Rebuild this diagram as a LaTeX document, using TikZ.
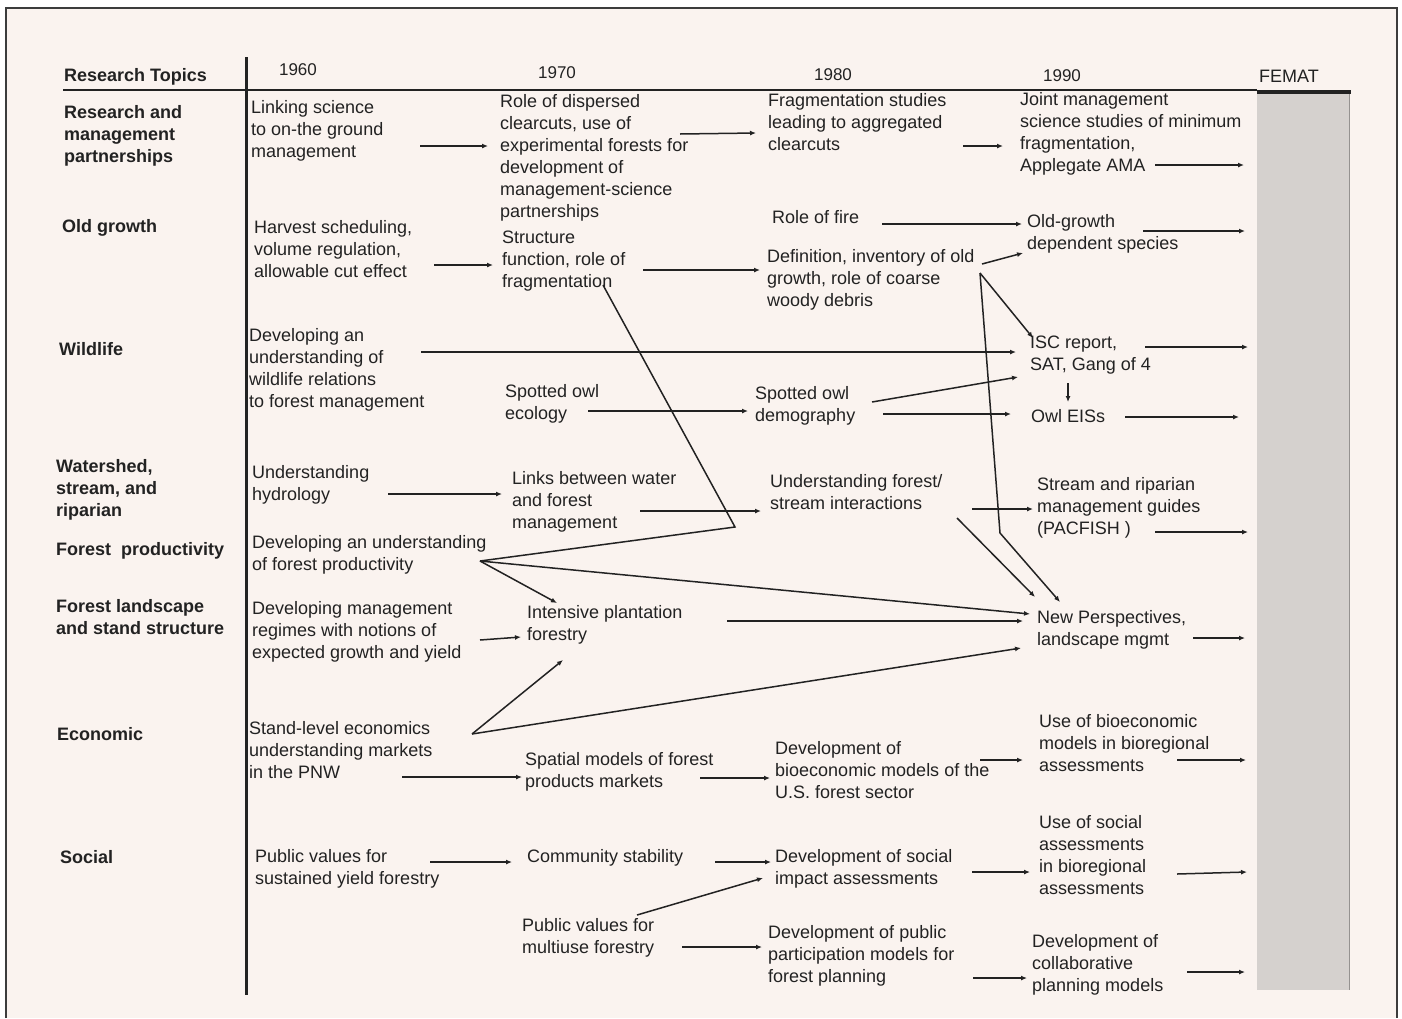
\documentclass[tikz,border=0pt]{standalone}
\usepackage{fontspec}
\setmainfont{Liberation Sans}
\usetikzlibrary{arrows.meta}
\definecolor{paper}{HTML}{FAF3EF}
\definecolor{ink}{HTML}{222222}
\definecolor{femat}{HTML}{D5D1CE}
\definecolor{rim}{HTML}{3C3C3C}
% text nodes are placed by the baseline of their last line
\tikzset{
  lbl/.style={font=\fontsize{18}{22}\selectfont, align=left, inner sep=0pt, anchor=base west, text=ink},
  topic/.style={lbl, font=\fontsize{18}{22}\selectfont\bfseries},
  yr/.style={font=\fontsize{17}{20}\selectfont, inner sep=0pt, anchor=base, text=ink},
  flow/.style={draw=ink, line width=1.5pt, -{Latex[length=6pt,width=5pt]}},
  bareline/.style={draw=ink, line width=1.5pt},
}
\begin{document}
\begin{tikzpicture}[x=1pt,y=-1pt]
\useasboundingbox (0,0) rectangle (1402,1018);
% paper and frame
\fill[white] (0,0) rectangle (1402,1018);
\fill[paper] (6,8) rectangle (1397,1018);
\draw[rim, line width=2pt] (6,1018) -- (6,8) -- (1397,8) -- (1397,1018);

% FEMAT column and table rules
\fill[femat] (1257,93) rectangle (1350,990);
\draw[femat!70!black, line width=1pt] (1349.5,93) -- (1349.5,990);
\draw[ink, line width=2.5pt] (63,90) -- (1257,90);
\draw[ink, line width=4.5pt] (1257,92) -- (1351,92);
\draw[ink, line width=3pt] (246,57) -- (246,995);

% header
\node[topic] (hdr) at (64,81) {Research Topics};
\node[yr] (y60) at (298,75) {1960};
\node[yr] (y70) at (557,78) {1970};
\node[yr] (y80) at (833,80) {1980};
\node[yr] (y90) at (1062,81) {1990};
\node[yr, font=\fontsize{18}{20}\selectfont] (fem) at (1289,82) {FEMAT};

% research topics
\node[topic] (t1) at (64,162) {Research and\\management\\partnerships};
\node[topic] (t2) at (62,232) {Old growth};
\node[topic] (t3) at (59,355) {Wildlife};
\node[topic] (t4) at (56,516) {Watershed,\\stream, and\\riparian};
\node[topic] (t5) at (56,555) {Forest~ productivity};
\node[topic] (t6) at (56,634) {Forest landscape\\and stand structure};
\node[topic] (t7) at (57,740) {Economic};
\node[topic] (t8) at (60,863) {Social};

% 1960s
\node[lbl] (a1) at (251,157) {Linking science\\to on-the ground\\management};
\node[lbl] (a2) at (254,277) {Harvest scheduling,\\volume regulation,\\allowable cut effect};
\node[lbl] (a3) at (249,407) {Developing an\\understanding of\\wildlife relations\\to forest management};
\node[lbl] (a4) at (252,500) {Understanding\\hydrology};
\node[lbl] (a5) at (252,570) {Developing an understanding\\of forest productivity};
\node[lbl] (a6) at (252,658) {Developing management\\regimes with notions of\\expected growth and yield};
\node[lbl] (a7) at (249,778) {Stand-level economics\\understanding markets\\in the PNW};
\node[lbl] (a8) at (255,884) {Public values for\\sustained yield forestry};

% 1970s
\node[lbl] (b1) at (500,217) {Role of dispersed\\clearcuts, use of\\experimental forests for\\development of\\management-science\\partnerships};
\node[lbl] (b2) at (502,287) {Structure\\function, role of\\fragmentation};
\node[lbl] (b3) at (505,419) {Spotted owl\\ecology};
\node[lbl] (b4) at (512,528) {Links between water\\and forest\\management};
\node[lbl] (b5) at (527,640) {Intensive plantation\\forestry};
\node[lbl] (b6) at (525,787) {Spatial models of forest\\products markets};
\node[lbl] (b7) at (527,862) {Community stability};
\node[lbl] (b8) at (522,953) {Public values for\\multiuse forestry};

% 1980s
\node[lbl] (c1) at (768,150) {Fragmentation studies\\leading to aggregated\\clearcuts};
\node[lbl] (c2) at (772,223) {Role of fire};
\node[lbl] (c3) at (767,306) {Definition, inventory of old\\growth, role of coarse\\woody debris};
\node[lbl] (c4) at (755,421) {Spotted owl\\demography};
\node[lbl] (c5) at (770,509) {Understanding forest/\\stream interactions};
\node[lbl] (c6) at (775,798) {Development of\\bioeconomic models of the\\U.S. forest sector};
\node[lbl] (c7) at (775,884) {Development of social\\impact assessments};
\node[lbl] (c8) at (768,982) {Development of public\\participation models for\\forest planning};

% 1990s
\node[lbl] (d1) at (1020,171) {Joint management\\science studies of minimum\\fragmentation,\\Applegate AMA};
\node[lbl] (d2) at (1027,249) {Old-growth\\dependent species};
\node[lbl] (d3) at (1030,370) {ISC report,\\SAT, Gang of 4};
\node[lbl] (d4) at (1031,422) {Owl EISs};
\node[lbl] (d5) at (1037,534) {Stream and riparian\\management guides\\(PACFISH )};
\node[lbl] (d6) at (1037,645) {New Perspectives,\\landscape mgmt};
\node[lbl] (d7) at (1039,771) {Use of bioeconomic\\models in bioregional\\assessments};
\node[lbl] (d8) at (1039,894) {Use of social\\assessments\\in bioregional\\assessments};
\node[lbl] (d9) at (1032,991) {Development of\\collaborative\\planning models};

% connector end points
\coordinate (a1o) at (420,146);  \coordinate (b1i) at (488,146);
\coordinate (b1o) at (680,134);  \coordinate (c1i) at (756,133);
\coordinate (c1o) at (963,146);  \coordinate (d1i) at (1003,146);
\coordinate (d1o) at (1155,165); \coordinate (d1f) at (1244,165);
\coordinate (a2o) at (434,265);  \coordinate (b2i) at (493,265);
\coordinate (b2o) at (643,270);  \coordinate (c3i) at (760,270);
\coordinate (c2o) at (882,224);  \coordinate (d2i) at (1022,224);
\coordinate (c3o) at (982,264);  \coordinate (d2j) at (1023,253);
\coordinate (d2o) at (1143,231); \coordinate (d2f) at (1245,231);
\coordinate (c3s) at (980,273);  \coordinate (d3i) at (1033,338);
\coordinate (c3k) at (1000,533); \coordinate (d6i) at (1060,602);
\coordinate (b2s) at (603,285);  \coordinate (bend) at (735,527);
\coordinate (a5o) at (480,561);  \coordinate (d6j) at (1030,614);
\coordinate (b5i) at (557,603);
\coordinate (b5o) at (727,621);  \coordinate (d6k) at (1023,621);
\coordinate (c5s) at (957,518);  \coordinate (d6l) at (1035,597);
\coordinate (c5o) at (972,509);  \coordinate (d5i) at (1033,509);
\coordinate (b4o) at (640,511);  \coordinate (c5i) at (761,511);
\coordinate (a4o) at (388,494);  \coordinate (b4i) at (502,494);
\coordinate (a3o) at (421,352);  \coordinate (d3j) at (1016,352);
\coordinate (b3o) at (588,411);  \coordinate (c4i) at (748,411);
\coordinate (c4s) at (872,402);  \coordinate (d3k) at (1018,377);
\coordinate (c4o) at (883,414);  \coordinate (d4i) at (1011,414);
\coordinate (d3s) at (1068,383); \coordinate (d4j) at (1068,402);
\coordinate (d3o) at (1145,347); \coordinate (d3f) at (1248,347);
\coordinate (d4o) at (1125,417); \coordinate (d4f) at (1239,417);
\coordinate (d5o) at (1155,532); \coordinate (d5f) at (1248,532);
\coordinate (d6o) at (1193,638); \coordinate (d6f) at (1245,638);
\coordinate (a6o) at (480,640);  \coordinate (b5j) at (521,637);
\coordinate (a7s) at (472,734);  \coordinate (b5k) at (563,660);
\coordinate (d6m) at (1021,648);
\coordinate (a7o) at (402,777);  \coordinate (b6i) at (522,777);
\coordinate (b6o) at (700,778);  \coordinate (c6i) at (770,778);
\coordinate (c6o) at (980,760);  \coordinate (d7i) at (1023,760);
\coordinate (d7o) at (1177,760); \coordinate (d7f) at (1246,760);
\coordinate (a8o) at (430,862);  \coordinate (b7i) at (512,862);
\coordinate (b7o) at (715,862);  \coordinate (c7i) at (771,862);
\coordinate (b8s) at (637,915);  \coordinate (c7j) at (763,878);
\coordinate (c7o) at (972,872);  \coordinate (d8i) at (1030,872);
\coordinate (d8o) at (1177,874); \coordinate (d8f) at (1247,872);
\coordinate (b8o) at (682,947);  \coordinate (c8i) at (762,947);
\coordinate (c8o) at (973,978);  \coordinate (d9i) at (1027,978);
\coordinate (d9o) at (1187,972); \coordinate (d9f) at (1245,972);

% research and management partnerships
\draw[flow] (a1o) -- (b1i);
\draw[flow] (b1o) -- (c1i);
\draw[flow] (c1o) -- (d1i);
\draw[flow] (d1o) -- (d1f);
% old growth
\draw[flow] (a2o) -- (b2i);
\draw[flow] (b2o) -- (c3i);
\draw[flow] (c2o) -- (d2i);
\draw[flow] (c3o) -- (d2j);
\draw[flow] (d2o) -- (d2f);
\draw[flow] (c3s) -- (d3i);
\draw[flow] (c3s) -- (c3k) -- (d6i);
% wildlife
\draw[flow] (a3o) -- (d3j);
\draw[flow] (b3o) -- (c4i);
\draw[flow] (c4s) -- (d3k);
\draw[flow] (c4o) -- (d4i);
\draw[flow] (d3s) -- (d4j);
\draw[flow] (d3o) -- (d3f);
\draw[flow] (d4o) -- (d4f);
% watershed
\draw[flow] (a4o) -- (b4i);
\draw[flow] (b4o) -- (c5i);
\draw[flow] (c5o) -- (d5i);
\draw[flow] (c5s) -- (d6l);
\draw[flow] (d5o) -- (d5f);
% productivity and stand structure
\draw[bareline] (b2s) -- (bend) -- (a5o);
\draw[flow] (a5o) -- (d6j);
\draw[flow] (a5o) -- (b5i);
\draw[flow] (a6o) -- (b5j);
\draw[flow] (b5o) -- (d6k);
\draw[flow] (d6o) -- (d6f);
% economic
\draw[flow] (a7s) -- (b5k);
\draw[flow] (a7s) -- (d6m);
\draw[flow] (a7o) -- (b6i);
\draw[flow] (b6o) -- (c6i);
\draw[flow] (c6o) -- (d7i);
\draw[flow] (d7o) -- (d7f);
% social
\draw[flow] (a8o) -- (b7i);
\draw[flow] (b7o) -- (c7i);
\draw[flow] (b8s) -- (c7j);
\draw[flow] (c7o) -- (d8i);
\draw[flow] (d8o) -- (d8f);
\draw[flow] (b8o) -- (c8i);
\draw[flow] (c8o) -- (d9i);
\draw[flow] (d9o) -- (d9f);
\end{tikzpicture}
\end{document}
